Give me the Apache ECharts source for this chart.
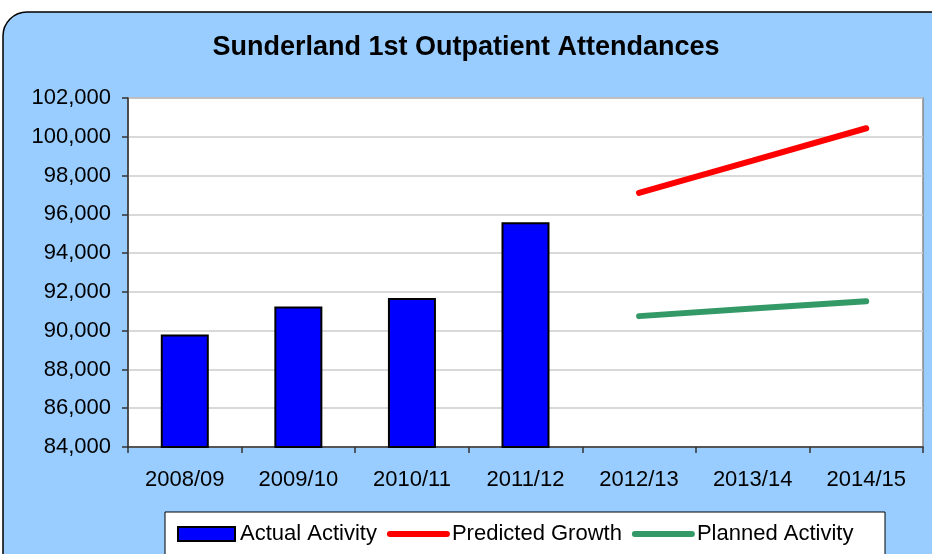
<html>
<head>
    <meta charset="utf-8">
    <script src="https://cdn.jsdelivr.net/npm/echarts@6/dist/echarts.min.js"></script>
    <title>Sunderland 1st Outpatient Attendances</title>
    <style>
        html, body { margin: 0; padding: 0; background: #fff; }
    </style>
</head>
<body>
    <div id="main" style="width: 932px; height: 554px;"></div>
    <script>
        // data
        const years = ['2008/09', '2009/10', '2010/11', '2011/12', '2012/13', '2013/14', '2014/15'];
        const actual = [89800, 91250, 91680, 95590, null, null, null];
        const predicted = [null, null, null, null, 97110, 98770, 100440];
        const planned = [null, null, null, null, 90750, 91140, 91520];
        const yTicks = { min: 84000, max: 102000, step: 2000 };

        const font = 'Liberation Sans, Arial, sans-serif';
        var myChart = echarts.init(document.getElementById('main'));
        myChart.setOption({
            backgroundColor: '#FFFFFF',
            animation: false,
            graphic: [{
                type: 'rect', z: -10,
                shape: { x: 3, y: 12, width: 960, height: 570, r: 24 },
                style: { fill: '#99CCFF', stroke: '#000', lineWidth: 1.5 }
            }, {
                type: 'rect', z: -5,
                shape: { x: 165, y: 512, width: 720, height: 60 },
                style: { fill: '#FFFFFF', stroke: '#000', lineWidth: 1 }
            }],
            title: {
                text: 'Sunderland 1st Outpatient Attendances',
                left: 'center', top: 29,
                textStyle: { fontFamily: font, fontSize: 27, fontWeight: 'bold', color: '#000' }
            },
            grid: {
                left: 128, right: 9, top: 98, bottom: 107,
                show: true, backgroundColor: '#FFFFFF',
                borderColor: '#888', borderWidth: 1.5
            },
            legend: {
                left: 172, top: 518,
                itemWidth: 57, itemHeight: 14, itemGap: 10,
                textStyle: { fontFamily: font, fontSize: 22, color: '#000' },
                lineStyle: { width: 'inherit', cap: 'round' },
                data: [
                    { name: 'Actual Activity', icon: 'rect', itemStyle: { color: '#0000FF', borderColor: '#000', borderWidth: 2 } },
                    { name: 'Predicted Growth', itemStyle: { opacity: 0 } },
                    { name: 'Planned Activity', itemStyle: { opacity: 0 } }
                ]
            },
            xAxis: {
                type: 'category',
                data: years,
                axisLine: { lineStyle: { color: '#333', width: 1.5 } },
                axisTick: { show: true, length: 6, lineStyle: { color: '#333', width: 1.5 } },
                axisLabel: { fontFamily: font, fontSize: 22, color: '#000', margin: 22 }
            },
            yAxis: {
                type: 'value',
                min: yTicks.min, max: yTicks.max, interval: yTicks.step,
                axisLine: { show: true, lineStyle: { color: '#333', width: 1.5 } },
                axisTick: { show: true, length: 6, lineStyle: { color: '#333', width: 1.5 } },
                axisLabel: {
                    fontFamily: font, fontSize: 22, color: '#000', margin: 17,
                    formatter: (v) => v.toLocaleString('en-US')
                },
                splitLine: { lineStyle: { color: '#CCCCCC', width: 1.5 } }
            },
            series: [{
                name: 'Actual Activity',
                type: 'bar',
                data: actual,
                barWidth: 48,
                itemStyle: { color: '#0000FF', borderColor: '#000', borderWidth: 2 }
            }, {
                name: 'Predicted Growth',
                type: 'line',
                data: predicted,
                symbol: 'none',
                lineStyle: { color: '#FF0000', width: 6, cap: 'round' },
                itemStyle: { color: '#FF0000' }
            }, {
                name: 'Planned Activity',
                type: 'line',
                data: planned,
                symbol: 'none',
                lineStyle: { color: '#339966', width: 6, cap: 'round' },
                itemStyle: { color: '#339966' }
            }]
        });
    </script>
</body>
</html>
